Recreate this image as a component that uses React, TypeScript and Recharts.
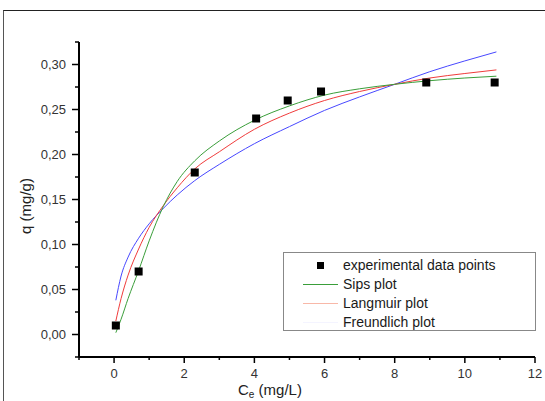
import React from "react";
import { ComposedChart, Line, Scatter, XAxis, YAxis } from "recharts";

// experimental points
const cExp = [0.05, 0.7, 2.3, 4.05, 4.95, 5.9, 8.9, 10.85];
const qExp = [0.01, 0.07, 0.18, 0.24, 0.26, 0.27, 0.28, 0.28];

// fitted curves
const cFit = [0.05, 0.2, 0.4, 0.7, 1.0, 1.4, 1.8, 2.3, 3, 4, 5, 6, 7, 8, 9, 10, 10.9];
const qSips = [0.002, 0.017, 0.04, 0.071, 0.104, 0.142, 0.17, 0.193, 0.215, 0.238, 0.254, 0.266, 0.273, 0.278, 0.282, 0.285, 0.287];
const qLangmuir = [0.015, 0.04, 0.066, 0.095, 0.119, 0.143, 0.163, 0.184, 0.203, 0.228, 0.246, 0.26, 0.27, 0.278, 0.285, 0.29, 0.294];
const qFreundlich = [0.038, 0.065, 0.086, 0.107, 0.123, 0.14, 0.155, 0.171, 0.189, 0.212, 0.231, 0.249, 0.264, 0.278, 0.292, 0.304, 0.314];

const xTicks = [-1, 0, 1, 2, 3, 4, 5, 6, 7, 8, 9, 10, 11, 12];
const yTicks = [-0.025, 0, 0.025, 0.05, 0.075, 0.1, 0.125, 0.15, 0.175, 0.2, 0.225, 0.25, 0.275, 0.3, 0.325];

const legendNames = ["experimental data points", "Sips plot", "Langmuir plot", "Freundlich plot"];

const FONT = "'Liberation Sans', Arial, sans-serif";
const GREEN = "#3a9e3a";
const RED = "#f03c3c";
const BLUE = "#4848ff";

const expData = cExp.map((c, i) => ({ c, q: qExp[i] }));
const toSeries = (vals: number[]) => cFit.map((c, i) => ({ c, q: vals[i] }));
const sipsData = toSeries(qSips);
const langmuirData = toSeries(qLangmuir);
const freundlichData = toSeries(qFreundlich);

const XTick = (props: any) => {
  const { x, y, payload } = props;
  const v = payload.value;
  const major = v % 2 === 0;
  return (
    <g>
      <line x1={x} x2={x} y1={y} y2={y + (major ? 6 : 3)} stroke="#000" strokeWidth={1.5} />
      {major && v >= 0 && (
        <text x={x} y={y + 21} textAnchor="middle" fontSize={13} fontFamily={FONT} fill="#333">
          {v}
        </text>
      )}
    </g>
  );
};

const YTick = (props: any) => {
  const { x, y, payload } = props;
  const v = payload.value;
  const major = Math.round(v * 1000) % 50 === 0;
  return (
    <g>
      <line x1={x - (major ? 7 : 4)} x2={x} y1={y} y2={y} stroke="#000" strokeWidth={1.5} />
      {major && (
        <text x={x - 13} y={y + 4.5} textAnchor="end" fontSize={13} fontFamily={FONT} fill="#333">
          {v.toFixed(2).replace(".", ",")}
        </text>
      )}
    </g>
  );
};

const Square = (props: any) => {
  const { cx, cy } = props;
  return <rect x={cx - 4} y={cy - 4} width={8} height={8} fill="#000" />;
};

function LegendBox() {
  const rowStyle: React.CSSProperties = { position: "relative", height: 19, lineHeight: "19px" };
  const marks = [
    <div style={{ position: "absolute", left: 33, top: 6, width: 7, height: 7, background: "#000" }} />,
    <div style={{ position: "absolute", left: 19, top: 9, width: 35, height: 1, background: GREEN }} />,
    <div style={{ position: "absolute", left: 19, top: 9, width: 35, height: 1, background: "#f8b8a8" }} />,
    <div style={{ position: "absolute", left: 19, top: 9, width: 35, height: 1, background: "#f4f4ff" }} />,
  ];
  return (
    <div
      style={{
        position: "absolute",
        left: 283,
        top: 252,
        width: 253,
        height: 79,
        border: "1px solid #888",
        background: "#fff",
        paddingTop: 3,
        boxSizing: "border-box",
        fontFamily: FONT,
        fontSize: 14,
        color: "#1a1a1a",
      }}
    >
      {legendNames.map((name, i) => (
        <div key={name} style={rowStyle}>
          {marks[i]}
          <span style={{ position: "absolute", left: 59 }}>{name}</span>
        </div>
      ))}
    </div>
  );
}

export default function App() {
  return (
    <div style={{ position: "absolute", left: 0, top: 0, width: 545, height: 401, background: "#fff" }}>
      <div
        style={{
          position: "absolute",
          left: 3,
          top: 10,
          width: 560,
          height: 420,
          borderLeft: "1px solid #555",
          borderTop: "1px solid #222",
        }}
      />
      <div style={{ position: "absolute", left: 0, top: 0 }}>
        <ComposedChart width={545} height={401} margin={{ top: 42, right: 10, left: 20, bottom: 0 }}>
          <XAxis
            dataKey="c"
            type="number"
            domain={[-1, 12]}
            ticks={xTicks}
            allowDataOverflow
            height={44}
            tickSize={0}
            tickMargin={0}
            tickLine={false}
            tick={<XTick />}
            axisLine={{ stroke: "#000", strokeWidth: 2 }}
            interval={0}
            label={{
              content: () => (
                <text x={238} y={395} fontSize={15} fontFamily={FONT} fill="#222">
                  C
                  <tspan fontSize={10} dy={3}>e</tspan>
                  <tspan dy={-3}> (mg/L)</tspan>
                </text>
              ),
            }}
          />
          <YAxis
            dataKey="q"
            type="number"
            domain={[-0.025, 0.325]}
            ticks={yTicks}
            allowDataOverflow
            width={59}
            tickSize={0}
            tickMargin={0}
            tickLine={false}
            tick={<YTick />}
            axisLine={{ stroke: "#000", strokeWidth: 2 }}
            interval={0}
            label={{
              content: () => (
                <text
                  x={25}
                  y={206}
                  transform="rotate(-90 25 206)"
                  textAnchor="middle"
                  dominantBaseline="central"
                  fontSize={15}
                  fontFamily={FONT}
                  fill="#222"
                >
                  q (mg/g)
                </text>
              ),
            }}
          />
          <Line data={freundlichData} dataKey="q" type="monotone" stroke={BLUE} strokeWidth={1} dot={false} isAnimationActive={false} />
          <Line data={langmuirData} dataKey="q" type="monotone" stroke={RED} strokeWidth={1} dot={false} isAnimationActive={false} />
          <Line data={sipsData} dataKey="q" type="monotone" stroke={GREEN} strokeWidth={1} dot={false} isAnimationActive={false} />
          <Scatter data={expData} dataKey="q" shape={<Square />} isAnimationActive={false} />
        </ComposedChart>
      </div>
      <LegendBox />
    </div>
  );
}
